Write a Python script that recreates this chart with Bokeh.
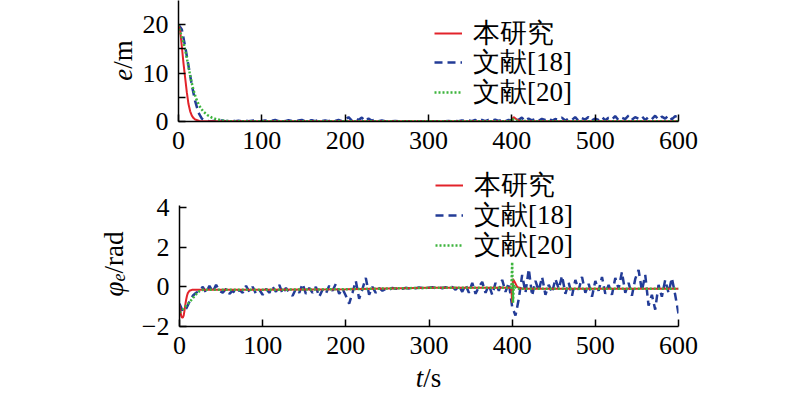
from math import pi
from bokeh.plotting import figure
from bokeh.models import Label, Legend, LegendItem, FixedTicker, Range1d
from bokeh.layouts import column, row
from bokeh.embed import file_html
from bokeh.resources import INLINE

FONT = "Liberation Serif"

legend_labels = ["本研究", "文献[18]", "文献[20]"]
x_ticks = [0, 100, 200, 300, 400, 500, 600]
e_ticks = [0, 5, 10, 15, 20]
e_tick_overrides = {5: "", 15: ""}
phi_ticks = [-2, 0, 2, 4]
phi_tick_overrides = {-2: "\u22122"}

# ---- e/m : proposed (red) ----
t_e_red = [0, 2, 4, 6, 8, 10, 12, 14, 16, 18, 20, 25, 30, 60, 200, 398, 400, 402, 406, 410, 420, 600]
e_red = [20.0, 18.8, 15.5, 12.0, 9.0, 6.0, 3.6, 2.1, 1.2, 0.7, 0.4, 0.12, 0.05, 0.03, 0.03, 0.03, 0.03, 0.9, 0.4, 0.12, 0.04, 0.04]

# ---- e/m : ref [20] (green dotted) ----
t_e_green = [0, 3, 6, 9, 12, 15, 18, 21, 24, 27, 30, 35, 40, 45, 50, 55, 60, 70, 398, 400, 403, 408, 600]
e_green = [20.0, 18.0, 16.3, 14.0, 11.3, 8.6, 6.5, 4.8, 3.6, 2.7, 2.0, 1.3, 0.8, 0.5, 0.3, 0.15, 0.08, 0.04, 0.04, 0.6, 0.3, 0.08, 0.04]

# ---- ref [18] (blue dashed), sampled every 4 s ----
t_blue = list(range(0, 601, 4))
e_blue = [
    20.0, 19.0, 15.5, 11.5, 7.5, 4.2, 1.8, 0.6, 0.25, 0.1,
    0.05, 0.15, 0.05, 0.2, 0.05, 0.1, 0.25, 0.05, 0.15, 0.05,
    0.2, 0.05, 0.15, 0.25, 0.05, 0.1, 0.2, 0.05, 0.15, 0.3,
    0.05, 0.2, 0.05, 0.25, 0.1, 0.05, 0.2, 0.3, 0.05, 0.15,
    0.25, 0.05, 0.3, 0.1, 0.2, 0.05, 0.25, 0.1, 0.3, 0.05,
    0.4, 0.9, 0.2, 0.7, 0.3, 0.8, 0.1, 0.6, 0.15, 0.4,
    0.05, 0.2, 0.05, 0.1, 0.05, 0.08, 0.03, 0.06, 0.03, 0.05,
    0.02, 0.05, 0.02, 0.04, 0.02, 0.05, 0.02, 0.05, 0.03, 0.06,
    0.03, 0.1, 0.05, 0.15, 0.05, 0.2, 0.1, 0.25, 0.05, 0.3,
    0.1, 0.35, 0.05, 0.3, 0.15, 0.4, 0.1, 0.35, 0.05, 0.3,
    0.2, 0.7, 0.3, 0.8, 0.1, 0.6, 0.25, 0.5, 0.1, 0.55,
    0.3, 0.7, 0.15, 0.5, 0.35, 0.8, 0.2, 0.6, 0.3, 0.9,
    0.15, 0.7, 0.4, 0.95, 0.2, 0.6, 0.35, 1.0, 0.25, 0.75,
    0.4, 1.1, 0.3, 0.8, 0.5, 1.2, 0.35, 0.9, 0.6, 1.1,
    0.3, 0.95, 0.5, 1.2, 0.4, 1.0, 0.6, 1.25, 0.45, 1.1,
    0.8,
]
phi_blue = [
    -0.85, -1.25, -1.1, -0.75, -0.45, -0.3, -0.2, 0.0, -0.3, 0.05,
    -0.25, 0.1, -0.2, -0.3, -0.1, -0.35, -0.2, -0.35, -0.15, -0.3,
    0.05, -0.25, 0.0, -0.35, -0.15, -0.4, -0.1, -0.3, 0.0, -0.25,
    0.1, -0.35, -0.05, -0.3, -0.45, -0.1, -0.3, 0.15, -0.35, -0.05,
    -0.3, 0.0, -0.5, -0.15, -0.35, 0.05, -0.2, 0.15, -0.35, -0.1,
    -0.45, -0.85, -0.3, 0.3, -0.6, -0.1, 0.45, -0.4, 0.0, -0.3,
    -0.05, -0.2, -0.1, -0.15, -0.05, -0.1, -0.05, -0.1, -0.05, -0.08,
    -0.03, -0.07, -0.03, -0.06, -0.03, -0.05, -0.02, -0.06, -0.02, -0.07,
    -0.02, -0.1, 0.0, -0.15, 0.05, -0.25, 0.1, -0.3, 0.2, -0.35,
    0.0, 0.25, -0.3, 0.1, -0.4, 0.2, -0.2, 0.35, -0.25, 0.2,
    -1.0, -1.45, -0.6, 0.6, -0.3, 0.9, -0.45, 0.3, -0.2, 0.5,
    -0.4, 0.1, -0.3, 0.4, -0.1, 0.55, -0.35, 0.2, -0.45, 0.35,
    -0.15, 0.5, -0.3, 0.15, -0.5, 0.3, -0.2, 0.5, -0.35, 0.1,
    -0.4, 0.45, -0.1, 0.75, -0.3, 0.2, -0.45, 0.4, 0.85, -0.2,
    0.6, -0.95, -0.4, -1.15, 0.1, -0.5, 0.35, -0.3, 0.45, -0.4,
    -1.35,
]

# ---- phi_e : proposed (red) ----
t_phi_red = [0, 1, 2, 3, 4, 5, 6, 7, 8, 9, 10, 12, 15, 20, 100, 200, 300, 399, 400, 401, 403, 406, 410, 420, 500, 600]
phi_red = [-0.9, -1.2, -1.45, -1.55, -1.55, -1.45, -1.2, -0.9, -0.65, -0.45, -0.32, -0.2, -0.15, -0.15, -0.15, -0.12, -0.05, -0.05, -0.8, 0.4, 0.25, 0.0, -0.08, -0.1, -0.1, -0.1]

# ---- phi_e : ref [20] (green dotted) ----
t_phi_green = [0, 3, 6, 9, 12, 15, 18, 21, 24, 27, 30, 100, 200, 300, 399, 400, 401, 402, 405, 410, 500, 600]
phi_green = [-1.3, -1.2, -1.05, -0.9, -0.78, -0.62, -0.47, -0.32, -0.22, -0.16, -0.15, -0.15, -0.12, -0.05, -0.05, 1.25, -0.8, 0.1, -0.1, -0.1, -0.1, -0.1]

RED = "#e2232a"
BLUE = "#233c97"
GREEN = "#3db43d"


def clean(p):
    p.outline_line_color = None
    p.background_fill_color = "white"
    p.border_fill_color = "white"


def style(p, yticks, overrides):
    clean(p)
    p.xgrid.visible = False
    p.ygrid.visible = False
    for ax in (p.xaxis[0], p.yaxis[0]):
        ax.axis_line_width = 1.5
        ax.axis_line_color = "black"
        ax.major_tick_line_width = 1.5
        ax.major_tick_line_color = "black"
        ax.major_tick_in = 7
        ax.major_tick_out = 0
        ax.minor_tick_line_color = None
        ax.major_label_text_font = FONT
        ax.major_label_text_font_size = "26px"
        ax.major_label_text_color = "black"
    p.xaxis[0].ticker = FixedTicker(ticks=x_ticks)
    p.xaxis[0].major_label_standoff = 10
    p.yaxis[0].ticker = FixedTicker(ticks=yticks)
    p.yaxis[0].major_label_overrides = overrides
    p.yaxis[0].major_label_standoff = 10


def add_legend(p, renderers, ys):
    # one single-entry legend per row, so that the row pitch matches the reference
    for lab, r, y in zip(legend_labels, renderers, ys):
        lg = Legend(items=[LegendItem(label=lab, renderers=[r])], location=(256, y),
                    orientation="vertical", padding=0, margin=0, spacing=0,
                    glyph_width=28, glyph_height=30, label_height=30, label_standoff=11,
                    label_text_font=FONT, label_text_font_size="27px",
                    label_text_color="black", border_line_color=None,
                    background_fill_alpha=0)
        p.add_layout(lg)


def txt(p, x, y, text, align, size="27px", italic=False, angle=0.0):
    p.add_layout(Label(x=x, y=y, text=text, angle=angle, text_align=align,
                       text_baseline="middle", text_font=FONT,
                       text_font_style="italic" if italic else "normal",
                       text_font_size=size, text_color="black"))


def strip(width, height, x_range, y_range, bottom=0):
    s = figure(width=width, height=height, x_range=x_range, y_range=y_range,
               x_axis_location=None, y_axis_location=None,
               output_backend="svg", toolbar_location=None,
               min_border_left=0, min_border_right=0, min_border_top=0,
               min_border_bottom=bottom)
    s.xgrid.visible = False
    s.ygrid.visible = False
    clean(s)
    return s


# ---------------- top: e/m ----------------
p1 = figure(width=652, height=160, x_range=Range1d(0, 600), y_range=Range1d(0, 25),
            output_backend="svg", toolbar_location=None,
            min_border_left=40, min_border_right=112, min_border_top=0, min_border_bottom=39)
style(p1, e_ticks, e_tick_overrides)
rb1 = p1.line(t_blue, e_blue, line_color=BLUE, line_width=2.5, line_dash="8 5")
rr1 = p1.line(t_e_red, e_red, line_color=RED, line_width=2)
rg1 = p1.line(t_e_green, e_green, line_color=GREEN, line_width=2.5, line_dash="2 2")
add_legend(p1, [rr1, rb1, rg1], [70, 41, 11])

l1 = strip(138, 160, Range1d(0, 138), p1.y_range, bottom=39)
txt(l1, 122, 10.9, "e", "right", italic=True, angle=pi / 2)
txt(l1, 122, 10.9, "/m", "left", angle=pi / 2)

# ---------------- bottom: phi_e/rad ----------------
p2 = figure(width=652, height=204, x_range=Range1d(0, 600), y_range=Range1d(-2, 6.37),
            output_backend="svg", toolbar_location=None,
            min_border_left=40, min_border_right=112, min_border_top=0, min_border_bottom=38)
style(p2, phi_ticks, phi_tick_overrides)
p2.yaxis[0].bounds = (-2, 4.1)
rb2 = p2.line(t_blue, phi_blue, line_color=BLUE, line_width=2.5, line_dash="8 5")
rr2 = p2.line(t_phi_red, phi_red, line_color=RED, line_width=2)
rg2 = p2.line(t_phi_green, phi_green, line_color=GREEN, line_width=2.5, line_dash="2 2")
add_legend(p2, [rr2, rb2, rg2], [123, 93, 63])

l2 = strip(138, 204, Range1d(0, 138), p2.y_range, bottom=38)
txt(l2, 113, 0.269, "\u03c6", "right", italic=True, angle=pi / 2)
txt(l2, 118, 0.269, "e", "left", size="18px", italic=True, angle=pi / 2)
txt(l2, 113, 0.673, "/rad", "left", angle=pi / 2)

# ---------------- x-axis title strip ----------------
b = strip(790, 31, Range1d(0, 790), Range1d(0, 31))
txt(b, 422.75, 18, "t", "right", italic=True)
txt(b, 422.75, 18, "/s", "left")

layout = column(row(l1, p1, spacing=0), row(l2, p2, spacing=0), b, spacing=0)
open("out.html", "w").write(file_html(layout, INLINE))
